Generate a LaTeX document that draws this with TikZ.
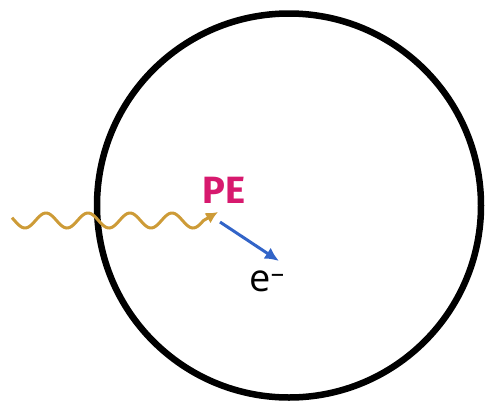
\documentclass[tikz,border=0pt]{standalone}
\usepackage{fontspec}
\setsansfont{Open Sans}
\newfontfamily\pefont{Fira Sans}
\usetikzlibrary{arrows.meta}
\definecolor{photongold}{RGB}{205,155,55}
\definecolor{pemagenta}{RGB}{215,25,110}
\definecolor{eblue}{RGB}{50,100,200}

\begin{document}
\begin{tikzpicture}[x=1pt, y=-1pt, >=Latex,
    photon/.style={photongold, line width=3pt, -{Latex[length=12pt,width=12pt]}},
    electron/.style={eblue, line width=3pt, -{Latex[length=14pt,width=13pt]}},
    label/.style={inner sep=0pt}]
  \useasboundingbox (0,0) rectangle (490,405);
  % detector volume
  \draw[line width=6.5pt] (289,205.5) circle[radius=192];
  % interaction point
  \coordinate (hit) at (218,212);
  \coordinate (estart) at (220,222);
  \coordinate (eend) at (279,261);
  \node[label, text=pemagenta, font=\pefont\bfseries\fontsize{38}{38}\selectfont] (PE) at (224,190) {PE};
  \node[label, font=\sffamily\fontsize{38}{38}\selectfont] (elec) at (267,281) {e\textsuperscript{\textendash}};
  % incoming gamma
  \draw[photon] plot[domain=-0.06:4.5, samples=200] ({14.5+42*\x}, {220.5+7.5*sin(360*\x)}) -- (hit);
  \draw[electron] (estart) -- (eend);
\end{tikzpicture}
\end{document}
